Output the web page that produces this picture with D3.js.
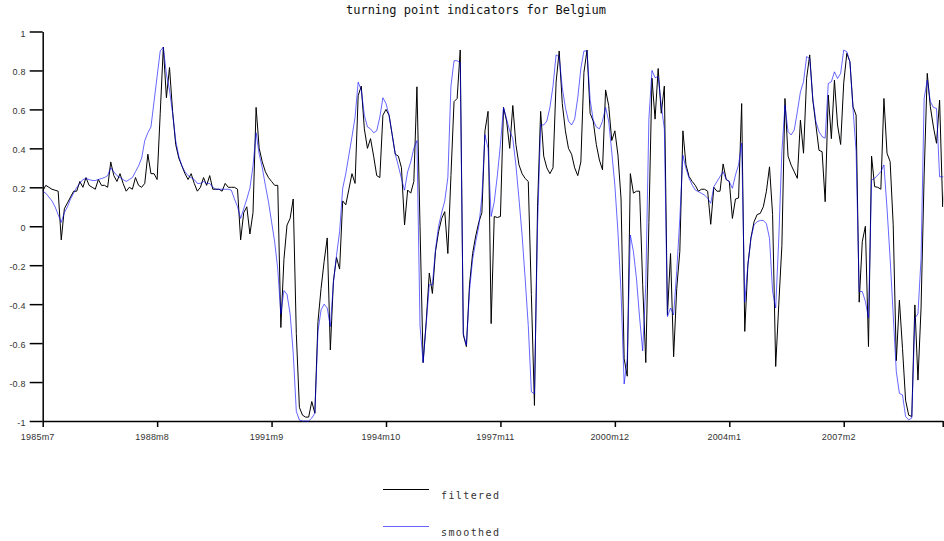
<!DOCTYPE html>
<html>
<head>
<meta charset="utf-8">
<script src="https://d3js.org/d3.v7.min.js"></script>
<style>
  body { margin: 0; background: #fff; }
  svg { display: block; font-family: "DejaVu Sans Mono", monospace; }
  .axis path, .axis line { stroke: #000; stroke-width: 1.5; }
  .axis text { fill: #333; font-size: 9px; letter-spacing: 0.2px; }
</style>
</head>
<body>
<svg width="944" height="541"></svg>
<script>
// monthly observations, 1985m7 onwards
const filtered = [
  0.18,0.21,0.20,0.19,0.185,0.18,-0.07,0.09,0.12,0.15,0.18,0.18,
  0.23,0.20,0.25,0.21,0.20,0.19,0.24,0.21,0.21,0.20,0.33,0.26,
  0.23,0.27,0.22,0.18,0.20,0.19,0.25,0.21,0.20,0.22,0.37,0.27,
  0.27,0.24,0.58,0.92,0.66,0.815,0.59,0.42,0.35,0.31,0.27,0.24,
  0.27,0.22,0.18,0.20,0.25,0.21,0.26,0.19,0.19,0.19,0.18,0.22,
  0.20,0.20,0.20,0.19,-0.07,0.07,0.10,-0.04,0.07,0.61,0.40,0.33,
  0.28,0.25,0.23,0.21,0.21,-0.52,-0.17,0.006,0.04,0.14,-0.55,-0.93,
  -0.97,-0.98,-0.98,-0.90,-0.96,-0.49,-0.32,-0.18,-0.06,-0.635,-0.28,-0.16,
  -0.22,0.13,0.11,0.19,0.27,0.22,0.67,0.72,0.50,0.40,0.45,0.36,
  0.26,0.25,0.57,0.60,0.57,0.47,0.37,0.36,0.30,0.007,0.186,0.17,
  0.23,0.716,0.0,-0.70,-0.49,-0.24,-0.345,-0.13,-0.028,0.04,0.075,-0.14,
  0.26,0.64,0.656,0.905,-0.558,-0.618,-0.30,-0.14,-0.05,0.02,0.07,0.49,
  0.59,-0.50,0.05,0.045,0.05,0.61,0.54,0.40,0.62,0.42,0.315,0.27,
  0.245,0.23,-0.35,-0.92,0.1,0.59,0.36,0.30,0.27,0.30,0.74,0.90,
  0.63,0.49,0.40,0.37,0.30,0.26,0.33,0.79,0.905,0.58,0.54,0.42,
  0.34,0.29,0.70,0.62,0.44,0.49,0.365,0.14,-0.68,-0.77,0.27,0.17,
  0.18,0.18,-0.3,-0.70,0.02,0.76,0.55,0.81,0.58,0.72,-0.455,-0.14,
  -0.67,-0.32,-0.13,0.49,0.315,0.255,0.23,0.21,0.18,0.19,0.19,0.18,
  0.01,0.20,0.18,0.18,0.32,0.24,0.23,0.04,0.14,0.145,0.63,-0.54,
  -0.20,-0.06,0.023,0.06,0.066,0.10,0.18,0.305,0.06,-0.72,-0.40,-0.10,
  0.656,0.36,0.314,0.28,0.246,0.545,0.375,0.76,0.88,0.648,0.52,0.39,
  0.383,0.126,0.674,0.45,0.75,0.52,0.42,0.736,0.888,0.845,0.614,0.571,
  -0.39,-0.079,0.0,-0.618,0.36,0.203,0.20,0.19,0.656,0.375,0.332,0.007,
  -0.69,-0.38,-0.627,-0.893,-0.97,-0.977,-0.404,-0.79,-0.42,0.263,0.785,0.614,
  0.51,0.426,0.648,0.10,0.25
];

const smoothed = [
  0.18,0.17,0.15,0.13,0.10,0.06,0.02,0.07,0.10,0.14,0.17,0.20,
  0.22,0.24,0.245,0.24,0.235,0.235,0.24,0.245,0.25,0.26,0.30,0.28,
  0.26,0.25,0.24,0.23,0.24,0.25,0.28,0.31,0.35,0.44,0.48,0.51,
  0.64,0.77,0.90,0.92,0.78,0.70,0.58,0.44,0.36,0.31,0.28,0.26,
  0.25,0.24,0.22,0.22,0.23,0.22,0.22,0.20,0.19,0.19,0.19,0.19,
  0.19,0.185,0.14,0.10,0.04,0.09,0.14,0.195,0.31,0.48,0.37,0.30,
  0.21,0.126,0.023,-0.08,-0.22,-0.45,-0.33,-0.35,-0.45,-0.65,-0.95,-0.995,
  -1.0,-1.0,-1.0,-0.985,-0.96,-0.54,-0.43,-0.40,-0.42,-0.515,-0.29,-0.15,
  -0.028,0.195,0.27,0.365,0.46,0.56,0.74,0.70,0.57,0.51,0.50,0.48,
  0.49,0.56,0.66,0.63,0.57,0.47,0.37,0.31,0.245,0.185,0.28,0.33,
  0.40,0.44,-0.51,-0.70,-0.50,-0.30,-0.30,-0.12,0.0,0.07,0.13,0.25,
  0.72,0.85,0.85,0.84,-0.55,-0.61,-0.33,-0.17,-0.08,0.0,0.15,0.47,
  0.40,0.05,0.125,0.26,0.42,0.61,0.55,0.49,0.45,0.315,0.14,-0.045,
  -0.27,-0.51,-0.85,-0.86,0.0,0.52,0.52,0.54,0.61,0.72,0.88,0.87,
  0.71,0.61,0.54,0.52,0.55,0.66,0.81,0.90,0.90,0.65,0.545,0.51,
  0.50,0.54,0.61,0.54,0.38,0.21,-0.03,-0.34,-0.81,-0.68,-0.045,-0.13,
  -0.27,-0.47,-0.64,-0.30,0.55,0.80,0.763,0.768,0.622,0.50,-0.464,-0.42,
  -0.455,-0.232,0.04,0.365,0.297,0.246,0.212,0.186,0.178,0.169,0.16,0.144,
  0.118,0.203,0.229,0.255,0.28,0.24,0.229,0.195,0.263,0.315,0.426,-0.39,
  -0.20,-0.062,0.007,0.023,0.03,0.03,0.013,-0.062,-0.335,-0.42,-0.062,0.383,
  0.622,0.486,0.469,0.494,0.588,0.69,0.742,0.871,0.862,0.656,0.537,0.486,
  0.46,0.452,0.733,0.742,0.793,0.759,0.785,0.905,0.896,0.845,0.605,0.383,
  -0.335,-0.335,-0.386,-0.47,0.237,0.246,0.263,0.28,0.315,0.092,-0.165,-0.455,
  -0.746,-0.858,-0.866,-0.977,-0.994,-0.985,-0.472,-0.45,-0.165,0.656,0.75,0.64,
  0.61,0.605,0.254,0.254,0.26
];

const xTickIdx = [0, 37, 74, 111, 148, 185, 222, 259, 291];
const xTickLabels = ["1985m7","1988m8","1991m9","1994m10","1997m11","2000m12","2004m1","2007m2",""];
const yTicks = [1, 0.8, 0.6, 0.4, 0.2, 0, -0.2, -0.4, -0.6, -0.8, -1];
const seriesNames = ["filtered", "smoothed"];

const mLeft = 42.7, mRight = 942.7, mTop = 31.5, mBottom = 421;
const svg = d3.select("svg");

var x = d3.scaleLinear().domain([0, 291]).range([mLeft, mRight]);
var y = d3.scaleLinear().domain([-1, 1]).range([mBottom, mTop]);

// title
svg.append("text")
  .attr("x", 476).attr("y", 14)
  .attr("text-anchor", "middle")
  .style("font-size", "12px")
  .style("fill", "#111")
  .text("turning point indicators for Belgium");

svg.append("defs").append("clipPath").attr("id", "plot")
  .append("rect").attr("x", mLeft).attr("y", mTop - 5)
  .attr("width", mRight - mLeft + 0.5).attr("height", mBottom - mTop + 6);

// axes
svg.append("g").attr("class", "axis")
  .attr("transform", "translate(" + mLeft + ",0)")
  .call(d3.axisLeft(y).tickValues(yTicks).tickSize(13).tickSizeOuter(0)
    .tickPadding(4).tickFormat(d => String(d)))
  .selectAll("text").attr("dy", "0.5em");

svg.append("g").attr("class", "axis")
  .attr("transform", "translate(0," + mBottom + ")")
  .call(d3.axisBottom(x).tickValues(xTickIdx).tickSize(6).tickSizeOuter(0)
    .tickPadding(7).tickFormat((d, i) => xTickLabels[i]))
  .selectAll("text").attr("dx", -5.5);

// lines
var line = d3.line().x((d, i) => x(i)).y(d => y(d));
var g = svg.append("g").attr("clip-path", "url(#plot)");

g.append("path").datum(filtered)
  .attr("d", line).attr("fill", "none")
  .attr("stroke", "#000").attr("stroke-width", 1);

g.append("path").datum(smoothed)
  .attr("d", line).attr("fill", "none")
  .attr("stroke", "#0000ff").attr("stroke-opacity", 0.6).attr("stroke-width", 1);

// legend
var legend = svg.append("g");
[["#000", 1], ["#0000ff", 0.6]].forEach(function (s, k) {
  var ly = 489.5 + k * 37;
  legend.append("line")
    .attr("x1", 383).attr("x2", 429).attr("y1", ly).attr("y2", ly)
    .attr("stroke", s[0]).attr("stroke-opacity", s[1]).attr("stroke-width", 1);
  legend.append("text")
    .attr("x", 441).attr("y", ly + 9.5)
    .style("font-size", "10px").style("letter-spacing", "1.4px").style("fill", "#333")
    .text(seriesNames[k]);
});
</script>
</body>
</html>
